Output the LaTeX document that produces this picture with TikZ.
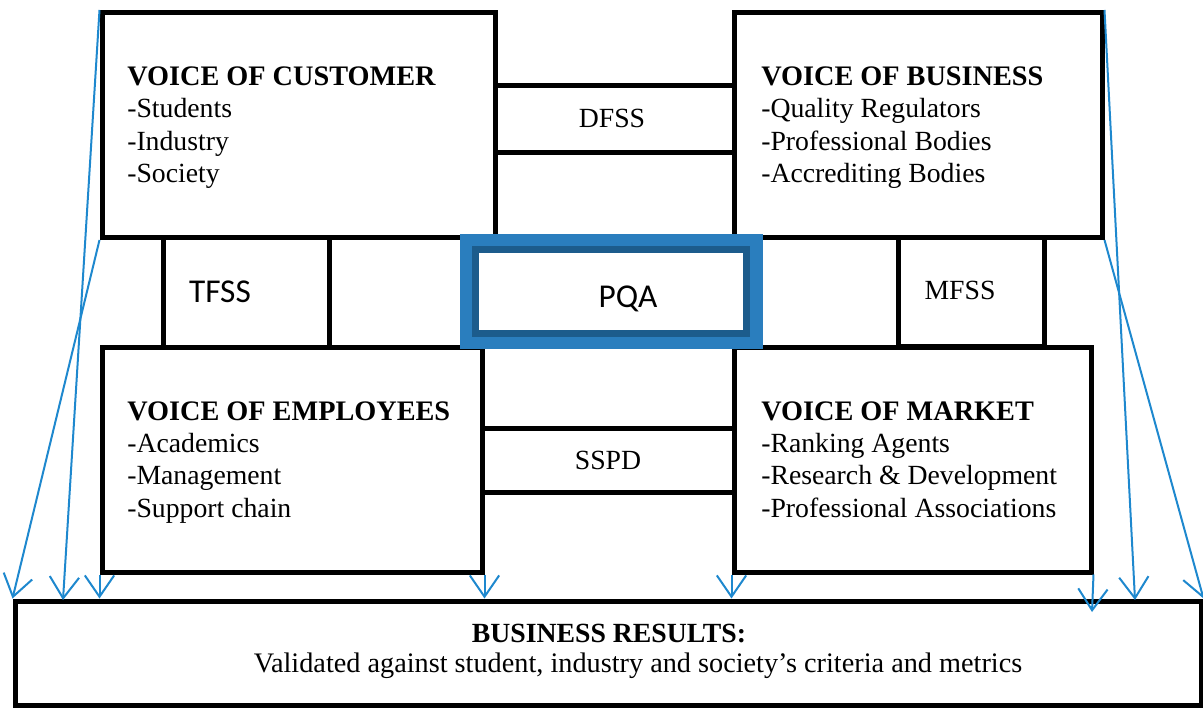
\documentclass[tikz,border=0pt]{standalone}
\usepackage{fontspec}
\setmainfont{Liberation Serif}
\newfontfamily\calib{Carlito}
\usetikzlibrary{arrows.meta,fit}
\definecolor{arrowblue}{RGB}{30,136,206}
\definecolor{pqalight}{RGB}{42,126,190}
\definecolor{pqadark}{RGB}{28,92,140}
\begin{document}
\begin{tikzpicture}[x=0.75pt,y=-0.75pt,
  box/.style={draw=black, line width=3.75pt, rectangle, inner sep=0pt, fill=white},
  txt/.style={anchor=base west, inner sep=0pt, font=\fontsize{20.8}{25}\selectfont},
  btxt/.style={anchor=base west, inner sep=0pt, font=\fontsize{21.2}{25}\selectfont\bfseries},
  ctxt/.style={anchor=base, inner sep=0pt, font=\fontsize{20.8}{25}\selectfont},
  stxt/.style={anchor=base, inner sep=0pt, font=\calib\fontsize{25}{30}\selectfont},
  arr/.style={draw=arrowblue, line width=1.5pt, -{Straight Barb[length=16pt,width=22pt]}}]
\useasboundingbox (0,0) rectangle (1203,709);
% connector boxes
\node[box, fit={(495,86) (734,153)}] (dfss) {};
\node[box, fit={(482,428) (734,492)}] (sspd) {};
\node[box, fit={(163,237.5) (329,347)}] (tfss) {};
\node[box, fit={(898,237.5) (1044,346)}] (mfss) {};
% main boxes
\node[box, fit={(102,12.5) (495,237.5)}] (voc) {};
\node[box, fit={(734,12.5) (1102,237.5)}] (vob) {};
\node[box, fit={(102,347) (482,572)}] (voe) {};
\node[box, fit={(734,347) (1091,572)}] (vom) {};
\node[box, fit={(15,601) (1201,705)}] (br) {};
% PQA
\node[draw=pqalight, fill=white, line width=14.25pt, inner sep=0pt, fit={(469.5,244) (753,339.5)}] (pqa) {};
\node[draw=pqadark, line width=5.25pt, inner sep=0pt, fit={(475.5,249.5) (746.5,333.5)}] (pqain) {};
% texts
\node[btxt] (voc0) at (127,86) {VOICE OF CUSTOMER};
\node[txt] (voc1) at (127,118) {-Students};
\node[txt] (voc2) at (127,150.5) {-Industry};
\node[txt] (voc3) at (127,183) {-Society};
\node[btxt] (vob0) at (761,86) {VOICE OF BUSINESS};
\node[txt] (vob1) at (761,118) {-Quality Regulators};
\node[txt] (vob2) at (761,150.5) {-Professional Bodies};
\node[txt] (vob3) at (761,183) {-Accrediting Bodies};
\node[btxt] (voe0) at (127,420) {VOICE OF EMPLOYEES};
\node[txt] (voe1) at (127,452) {-Academics};
\node[txt] (voe2) at (127,484.5) {-Management};
\node[txt] (voe3) at (127,517) {-Support chain};
\node[btxt] (vom0) at (761,420) {VOICE OF MARKET};
\node[txt] (vom1) at (761,452) {-Ranking Agents};
\node[txt] (vom2) at (761,484.5) {-Research \& Development};
\node[txt] (vom3) at (761,517) {-Professional Associations};
\node[ctxt] (dfsst) at (612,128) {DFSS};
\node[ctxt] (sspdt) at (608,469) {SSPD};
\node[ctxt] (mfsst) at (960,300) {MFSS};
\node[stxt] (tfsst) at (220,303) {TFSS};
\node[stxt] (pqat) at (628,307) {PQA};
\node[ctxt] (brt0) at (609,642) {\textbf{BUSINESS RESULTS:}};
\node[anchor=base, inner sep=0pt, font=\fontsize{21.2}{25}\selectfont] (brt1) at (638,672) {Validated against student, industry and society’s criteria and metrics};
% arrows
\coordinate (e1) at (63,600);
\coordinate (e6) at (1092,612);
\coordinate (e7) at (1135,600);
\draw[arr] (voc.north west) -- (e1);
\draw[arr] (voc.south west) -- (br.north west);
\draw[arr] (voe.south west) -- (voe.south west |- br.north);
\draw[arr] (voe.south east) -- (voe.south east |- br.north);
\draw[arr] (vom.south west) -- (vom.south west |- br.north);
\draw[arr] (vom.south east) -- (e6);
\draw[arr] (vob.north east) -- (e7);
\draw[arr] (vob.south east) -- (br.north east);
\end{tikzpicture}
\end{document}
